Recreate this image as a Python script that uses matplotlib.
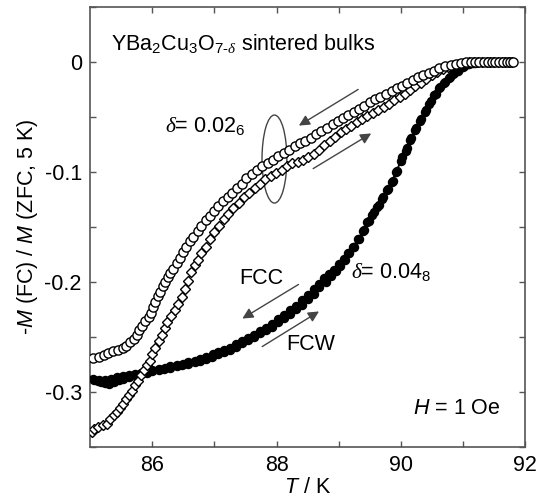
import matplotlib

matplotlib.use("Agg")
import matplotlib.pyplot as plt
from matplotlib.patches import Ellipse

plt.rcParams["font.family"] = ["Liberation Sans", "DejaVu Sans"]
plt.rcParams["mathtext.fontset"] = "custom"
plt.rcParams["mathtext.rm"] = "Liberation Sans"
plt.rcParams["mathtext.it"] = "Liberation Sans:italic"
plt.rcParams["mathtext.bf"] = "Liberation Sans:bold"
plt.rcParams["mathtext.cal"] = "Liberation Serif:italic"

# delta = 0.026, field-cooled cooling (open circles)
t_fcc_026 = [85.04, 85.14, 85.22, 85.29, 85.37, 85.45, 85.52, 85.58, 85.64, 85.70,
             85.75, 85.79, 85.84, 85.89, 85.94, 85.98, 86.01, 86.05, 86.09, 86.13,
             86.17, 86.21, 86.25, 86.29, 86.34, 86.39, 86.44, 86.49, 86.54, 86.60,
             86.66, 86.73, 86.79, 86.86, 86.93, 86.99, 87.06, 87.13, 87.21, 87.28,
             87.36, 87.44, 87.51, 87.60, 87.69, 87.77, 87.86, 87.94, 88.03, 88.12,
             88.20, 88.29, 88.38, 88.46, 88.55, 88.64, 88.72, 88.81, 88.90, 88.98,
             89.07, 89.15, 89.24, 89.33, 89.41, 89.50, 89.59, 89.67, 89.76, 89.85,
             89.93, 90.02, 90.10, 90.19, 90.28, 90.36, 90.45, 90.54, 90.62, 90.71,
             90.80, 90.88, 90.97, 91.05, 91.12, 91.19, 91.26, 91.33, 91.40, 91.46,
             91.52, 91.58, 91.64, 91.70, 91.76, 91.81]
m_fcc_026 = [-0.269, -0.268, -0.267, -0.265, -0.263, -0.262, -0.260, -0.258, -0.255, -0.252,
             -0.248, -0.244, -0.240, -0.236, -0.232, -0.228, -0.223, -0.218, -0.213, -0.209,
             -0.204, -0.200, -0.196, -0.192, -0.188, -0.183, -0.178, -0.173, -0.168, -0.163,
             -0.159, -0.154, -0.149, -0.144, -0.140, -0.136, -0.131, -0.127, -0.123, -0.119,
             -0.115, -0.111, -0.106, -0.102, -0.098, -0.095, -0.092, -0.089, -0.086, -0.083,
             -0.080, -0.077, -0.074, -0.072, -0.069, -0.066, -0.063, -0.060, -0.057, -0.054,
             -0.051, -0.048, -0.046, -0.043, -0.040, -0.037, -0.034, -0.032, -0.029, -0.027,
             -0.024, -0.022, -0.019, -0.017, -0.014, -0.012, -0.010, -0.008, -0.006, -0.004,
             -0.003, -0.002, -0.001, 0.0, 0.0, 0.0, 0.0, 0.0, 0.0, 0.0,
             0.0, 0.0, 0.0, 0.0, 0.0, 0.0]

# delta = 0.026, field-cooled warming (open diamonds)
t_fcw_026 = [85.03, 85.06, 85.13, 85.20, 85.27, 85.32, 85.38, 85.43, 85.48, 85.53,
             85.57, 85.62, 85.67, 85.72, 85.77, 85.81, 85.86, 85.91, 85.96, 86.00,
             86.05, 86.10, 86.15, 86.20, 86.24, 86.30, 86.36, 86.42, 86.47, 86.53,
             86.58, 86.63, 86.68, 86.73, 86.79, 86.86, 86.93, 86.99, 87.07, 87.15,
             87.22, 87.30, 87.39, 87.47, 87.56, 87.65, 87.73, 87.82, 87.91, 87.99,
             88.08, 88.17, 88.25, 88.34, 88.42, 88.51, 88.60, 88.68, 88.77, 88.86,
             88.94, 89.03, 89.12, 89.20, 89.29, 89.38, 89.46, 89.55, 89.63, 89.72,
             89.81, 89.89, 89.98, 90.06, 90.15, 90.23, 90.32, 90.41, 90.50, 90.58,
             90.67, 90.76, 90.85, 90.93, 91.02, 91.10, 91.17, 91.24, 91.31, 91.38,
             91.44, 91.50, 91.56, 91.62, 91.68, 91.74, 91.79]
m_fcw_026 = [-0.337, -0.334, -0.332, -0.330, -0.329, -0.325, -0.321, -0.318, -0.315, -0.311,
             -0.307, -0.303, -0.299, -0.294, -0.290, -0.285, -0.280, -0.276, -0.272, -0.266,
             -0.260, -0.254, -0.248, -0.242, -0.237, -0.231, -0.226, -0.220, -0.214, -0.207,
             -0.199, -0.191, -0.185, -0.180, -0.174, -0.168, -0.161, -0.155, -0.149, -0.143,
             -0.138, -0.133, -0.128, -0.123, -0.119, -0.115, -0.111, -0.107, -0.104, -0.101,
             -0.098, -0.095, -0.092, -0.091, -0.089, -0.087, -0.084, -0.080, -0.076, -0.072,
             -0.068, -0.064, -0.061, -0.058, -0.055, -0.052, -0.049, -0.047, -0.044, -0.041,
             -0.038, -0.035, -0.032, -0.029, -0.026, -0.022, -0.019, -0.016, -0.012, -0.009,
             -0.007, -0.005, -0.003, -0.002, -0.001, 0.0, 0.0, 0.0, 0.0, 0.0,
             0.0, 0.0, 0.0, 0.0, 0.0, 0.0, 0.0]

# delta = 0.048, field-cooled cooling (filled circles)
t_fcc_048 = [85.06, 85.12, 85.17, 85.24, 85.31, 85.38, 85.46, 85.53, 85.62, 85.72,
             85.81, 85.91, 86.00, 86.10, 86.19, 86.29, 86.39, 86.48, 86.58, 86.68,
             86.77, 86.87, 86.96, 87.06, 87.16, 87.25, 87.35, 87.44, 87.54, 87.64,
             87.73, 87.83, 87.93, 88.02, 88.12, 88.21, 88.31, 88.41, 88.50, 88.60,
             88.69, 88.79, 88.87, 88.95, 89.02, 89.10, 89.17, 89.25, 89.33, 89.41,
             89.48, 89.56, 89.64, 89.71, 89.79, 89.87, 89.94, 90.02, 90.10, 90.17,
             90.25, 90.33, 90.40, 90.48, 90.56, 90.63, 90.71, 90.79, 90.86, 90.94,
             91.02, 91.10, 91.20, 91.30, 91.40, 91.50, 91.60, 91.70]
m_fcc_048 = [-0.289, -0.290, -0.291, -0.292, -0.293, -0.291, -0.289, -0.288, -0.287, -0.285,
             -0.284, -0.283, -0.281, -0.280, -0.279, -0.278, -0.277, -0.276, -0.275, -0.273,
             -0.272, -0.270, -0.268, -0.266, -0.264, -0.262, -0.259, -0.256, -0.253, -0.250,
             -0.247, -0.244, -0.241, -0.237, -0.233, -0.229, -0.225, -0.221, -0.216, -0.211,
             -0.205, -0.200, -0.195, -0.190, -0.186, -0.180, -0.174, -0.168, -0.161, -0.153,
             -0.145, -0.137, -0.130, -0.123, -0.116, -0.108, -0.099, -0.087, -0.078, -0.069,
             -0.060, -0.052, -0.044, -0.036, -0.029, -0.023, -0.018, -0.014, -0.010, -0.007,
             -0.004, -0.002, -0.001, 0.0, 0.0, 0.0, 0.0, 0.0]

# delta = 0.048, field-cooled warming (filled circles)
t_fcw_048 = [85.05, 85.14, 85.24, 85.33, 85.43, 85.53, 85.62, 85.72, 85.81, 85.91,
             86.00, 86.10, 86.20, 86.29, 86.39, 86.49, 86.58, 86.68, 86.77, 86.87,
             86.97, 87.06, 87.16, 87.25, 87.35, 87.45, 87.54, 87.64, 87.73, 87.83,
             87.93, 88.02, 88.12, 88.22, 88.31, 88.41, 88.50, 88.60, 88.69, 88.77,
             88.84, 88.92, 89.00, 89.08, 89.15, 89.23, 89.31, 89.39, 89.46, 89.54,
             89.62, 89.69, 89.77, 89.85, 89.92, 90.00, 90.08, 90.15, 90.23, 90.31,
             90.38, 90.46, 90.54, 90.61, 90.69, 90.77, 90.84, 90.92, 91.00, 91.08,
             91.16, 91.25]
m_fcw_048 = [-0.288, -0.289, -0.289, -0.288, -0.287, -0.286, -0.285, -0.284, -0.283, -0.281,
             -0.280, -0.279, -0.278, -0.277, -0.276, -0.275, -0.273, -0.272, -0.270, -0.268,
             -0.266, -0.264, -0.262, -0.260, -0.257, -0.254, -0.251, -0.248, -0.245, -0.242,
             -0.238, -0.234, -0.230, -0.226, -0.222, -0.217, -0.212, -0.207, -0.202, -0.197,
             -0.193, -0.189, -0.184, -0.179, -0.174, -0.168, -0.161, -0.154, -0.146, -0.139,
             -0.132, -0.125, -0.117, -0.109, -0.100, -0.090, -0.081, -0.071, -0.062, -0.054,
             -0.046, -0.038, -0.030, -0.024, -0.019, -0.015, -0.011, -0.008, -0.005, -0.002,
             -0.001, 0.0]

x_ticks = [86, 88, 90, 92]
y_ticks = [-0.3, -0.2, -0.1, 0.0]
y_ticklabels = ["-0.3", "-0.2", "-0.1", "0"]

fig = plt.figure(figsize=(5.43, 4.97), dpi=100)
ax = fig.add_axes([0.1661, 0.1012, 0.8011, 0.8853])

for t, m in [(t_fcc_048, m_fcc_048), (t_fcw_048, m_fcw_048)]:
    ax.plot(t, m, color="black", lw=1.0, marker="o", ms=5.8,
            mfc="black", mec="black", zorder=3)
ax.plot(t_fcw_026, m_fcw_026, color="black", lw=0.7, marker="D", ms=5.6,
        mfc="white", mec="black", mew=1.0, zorder=4)
ax.plot(t_fcc_026, m_fcc_026, color="black", lw=0.5, marker="o", ms=6.6,
        mfc="white", mec="black", mew=1.0, zorder=5)

# loop marking the delta = 0.026 pair
ax.add_patch(Ellipse((87.965, -0.0885), 0.40, 0.080, fill=False,
                     ec="#444444", lw=1.0, zorder=2))

arrow = dict(arrowstyle="-|>", color="#444444", lw=1.0, mutation_scale=16)
ax.annotate("", xy=(88.32, -0.0594), xytext=(89.35, -0.0239), arrowprops=arrow)
ax.annotate("", xy=(89.56, -0.0639), xytext=(88.55, -0.0985), arrowprops=arrow)
ax.annotate("", xy=(87.41, -0.2348), xytext=(88.39, -0.2012), arrowprops=arrow)
ax.annotate("", xy=(88.72, -0.2257), xytext=(87.73, -0.2603), arrowprops=arrow)

fs = 15.5
d = r"\mathcal{\delta}"
ax.text(85.33, 0.016, "YBa$_2$Cu$_3$O$_{7\u2010" + d + "}$ sintered bulks",
        fontsize=fs, va="center", ha="left")
ax.text(86.21, -0.059, "$" + d + "$= 0.02$_6$", fontsize=fs, va="center", ha="left")
ax.text(89.19, -0.192, "$" + d + "$= 0.04$_8$", fontsize=fs, va="center", ha="left")
ax.text(87.76, -0.1975, "FCC", fontsize=fs, va="center", ha="center")
ax.text(88.55, -0.257, "FCW", fontsize=fs, va="center", ha="center")
ax.text(91.6, -0.315, r"$H$ = 1 Oe", fontsize=fs, va="center", ha="right")

ax.set_xlim(85, 92)
ax.set_ylim(-0.35, 0.05)
ax.set_xticks(x_ticks)
ax.set_xticks([87, 89, 91], minor=True)
ax.set_yticks(y_ticks)
ax.set_yticklabels(y_ticklabels)
ax.set_yticks([-0.35, -0.25, -0.15, -0.05, 0.05], minor=True)
ax.tick_params(which="both", direction="in", top=True, right=True,
               length=4.5, width=1.0, color="#555555", labelsize=fs, pad=6)
for spine in ax.spines.values():
    spine.set_linewidth(1.2)
    spine.set_color("#555555")

ax.set_xlabel(r"$T$ / K", fontsize=fs, labelpad=1)
ax.set_ylabel(r"-$M$ (FC) / $M$ (ZFC, 5 K)", fontsize=fs, labelpad=3)

fig.savefig("out.png", dpi=100)
